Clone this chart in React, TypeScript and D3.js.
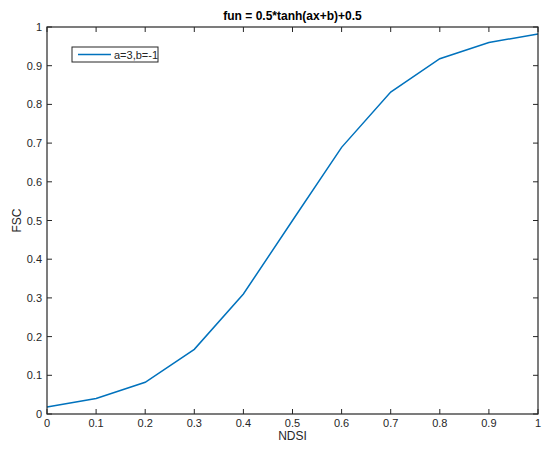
import React from 'react';
import * as d3 from 'd3';

const xValues = [0, 0.1, 0.2, 0.3, 0.4, 0.5, 0.6, 0.7, 0.8, 0.9, 1];
const fscValues = [0.018, 0.04, 0.082, 0.167, 0.31, 0.5, 0.689, 0.832, 0.918, 0.96, 0.982];
const xTicks = [0, 0.1, 0.2, 0.3, 0.4, 0.5, 0.6, 0.7, 0.8, 0.9, 1];
const yTicks = [0, 0.1, 0.2, 0.3, 0.4, 0.5, 0.6, 0.7, 0.8, 0.9, 1];
const seriesName = 'a=3,b=-1';
const title = 'fun = 0.5*tanh(ax+b)+0.5';

const width = 550;
const height = 452;
const margin = { top: 27, right: 12, bottom: 38, left: 47 };
const font = 'Helvetica, Arial, "Liberation Sans", sans-serif';

const App = () => {
    const x = d3.scaleLinear().domain([0, 1]).range([margin.left, width - margin.right]);
    const y = d3.scaleLinear().domain([0, 1]).range([height - margin.bottom, margin.top]);
    const line = d3.line<number>().x((_, i) => x(xValues[i])).y((d) => y(d));
    const tick = 5;
    const axisColor = '#262626';
    const x0 = x(0), x1 = x(1), y0 = y(0), y1 = y(1);

    return (
        <svg width={width} height={height} style={{ position: 'absolute', left: 0, top: 0, background: '#fff' }}>
            <rect width={width} height={height} fill="#fff" />
            <path d={line(fscValues) || ''} fill="none" stroke="#0072BD" strokeWidth={1.5} />
            <rect x={x0} y={y1} width={x1 - x0} height={y0 - y1} fill="none" stroke={axisColor} strokeWidth={1.2} />
            {xTicks.map((t) => (
                <g key={'x' + t}>
                    <line x1={x(t)} x2={x(t)} y1={y0} y2={y0 - tick} stroke={axisColor} />
                    <line x1={x(t)} x2={x(t)} y1={y1} y2={y1 + tick} stroke={axisColor} />
                    <text x={x(t)} y={y0 + 13} textAnchor="middle" fontSize={11} fontFamily={font} fill={axisColor}>{t}</text>
                </g>
            ))}
            {yTicks.map((t) => (
                <g key={'y' + t}>
                    <line x1={x0} x2={x0 + tick} y1={y(t)} y2={y(t)} stroke={axisColor} />
                    <line x1={x1} x2={x1 - tick} y1={y(t)} y2={y(t)} stroke={axisColor} />
                    <text x={x0 - 5} y={y(t) + 4} textAnchor="end" fontSize={11} fontFamily={font} fill={axisColor}>{t}</text>
                </g>
            ))}
            <text x={(x0 + x1) / 2} y={y0 + 26} textAnchor="middle" fontSize={12} fontFamily={font} fill={axisColor}>NDSI</text>
            <text transform={`translate(21,${(y0 + y1) / 2}) rotate(-90)`} textAnchor="middle" fontSize={12} fontFamily={font} fill={axisColor}>FSC</text>
            <text x={(x0 + x1) / 2} y={20} textAnchor="middle" fontSize={12} fontWeight="bold" fontFamily={font} fill="#000">{title}</text>
            <g transform={`translate(${x0 + 25},${y1 + 20})`}>
                <rect x={0} y={0} width={86} height={15} fill="#fff" stroke={axisColor} strokeWidth={1} />
                <line x1={6} x2={39} y1={7.5} y2={7.5} stroke="#0072BD" strokeWidth={1.5} />
                <text x={42} y={11.5} fontSize={11} fontFamily={font} fill={axisColor}>{seriesName}</text>
            </g>
        </svg>
    );
};

export default App;
